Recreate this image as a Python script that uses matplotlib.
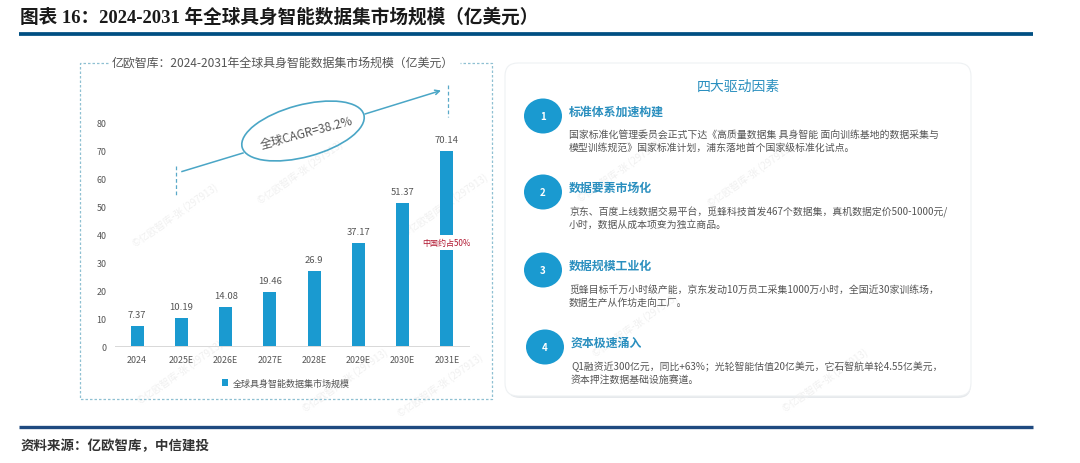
#!/usr/bin/env python3
"""Global embodied-AI dataset market size chart with the four-drivers card."""

import matplotlib
matplotlib.use("Agg")
import matplotlib.pyplot as plt
from matplotlib.patches import Ellipse, FancyBboxPatch

CJK = ["Noto Sans CJK SC", "DejaVu Sans"]
plt.rcParams["font.family"] = CJK

W, H = 1080, 464
BLUE = "#1a9ad0"
TEAL = "#4aa6c6"
TEXT = "#555555"

years = ["2024", "2025E", "2026E", "2027E", "2028E", "2029E", "2030E", "2031E"]
market_size = [7.37, 10.19, 14.08, 19.46, 26.9, 37.17, 51.37, 70.14]
value_labels = ["7.37", "10.19", "14.08", "19.46", "26.9", "37.17", "51.37", "70.14"]
y_ticks = [0, 10, 20, 30, 40, 50, 60, 70, 80]

# full-width punctuation written as escapes so it stays full width
COLON, COMMA, SEMI, LP, RP = "\uff1a", "\uff0c", "\uff1b", "\uff08", "\uff09"

page_title = f"图表 16{COLON}2024-2031 年全球具身智能数据集市场规模{LP}亿美元{RP}"
chart_title = f"亿欧智库{COLON}2024-2031年全球具身智能数据集市场规模{LP}亿美元{RP}"
source_note = f"资料来源{COLON}亿欧智库{COMMA}中信建投"

card_title = "四大驱动因素"
driver_nums = ["1", "2", "3", "4"]
driver_heads = ["标准体系加速构建", "数据要素市场化", "数据规模工业化", "资本极速涌入"]
driver_lines = [
    ["国家标准化管理委员会正式下达《高质量数据集 具身智能 面向训练基地的数据采集与",
     f"模型训练规范》国家标准计划{COMMA}浦东落地首个国家级标准化试点。"],
    [f"京东、百度上线数据交易平台{COMMA}觅蜂科技首发467个数据集{COMMA}真机数据定价500-1000元/",
     f"小时{COMMA}数据从成本项变为独立商品。"],
    [f"觅蜂目标千万小时级产能{COMMA}京东发动10万员工采集1000万小时{COMMA}全国近30家训练场{COMMA}",
     "数据生产从作坊走向工厂。"],
    [f"Q1融资近300亿元{COMMA}同比+63%{SEMI}光轮智能估值20亿美元{COMMA}它石智航单轮4.55亿美元{COMMA}",
     "资本押注数据基础设施赛道。"],
]
circle_y = [117, 193, 271, 348]
head_y = [112, 188, 266, 343]
body_y = [135, 212, 290, 367]

watermark = "©亿欧智库-张 (297913)"
mark_xy = [(175, 215), (180, 372), (300, 172), (345, 380), (445, 205), (440, 385),
           (620, 170), (750, 175), (635, 325), (825, 380)]


def main():
    fig = plt.figure(figsize=(W / 100, H / 100), dpi=100, facecolor="white")

    # overlay in pixel coordinates for the page furniture
    bg = fig.add_axes([0, 0, 1, 1])
    bg.set_xlim(0, W)
    bg.set_ylim(H, 0)
    bg.axis("off")

    for x, y in mark_xy[:6]:
        bg.text(x, y, watermark, fontsize=7, color="#f0f0f0", rotation=35,
                ha="center", va="center", zorder=1)

    bg.text(20, 17.5, page_title, fontsize=13.4, fontweight="bold", color="#1a1a1a",
            va="center", family=["Liberation Serif", "Noto Sans CJK SC"])
    bg.plot([19, 1033], [34.5, 34.5], color="#004f82", lw=2.7, solid_capstyle="butt")
    bg.plot([19, 1033], [428, 428], color="#1f4a80", lw=2.4, solid_capstyle="butt")
    bg.text(21, 446, source_note, fontsize=9.7, color="#333333",
            va="center", fontweight="bold", style="italic")

    # dashed frame round the chart, broken by its title
    dash = dict(color="#8fc0d2", lw=0.9, ls=(0, (2, 1.6)))
    bg.plot([108, 80, 80, 492, 492, 460], [64, 64, 400, 400, 64, 64], **dash)
    bg.text(283, 63.5, chart_title, fontsize=8.6, color="#555555", ha="center", va="center")

    # CAGR callout
    bg.plot([176, 176], [167, 198], color="#5aa9c8", lw=0.9, ls=(0, (3, 2)))
    bg.plot([448, 448], [86, 118], color="#5aa9c8", lw=0.9, ls=(0, (3, 2)))
    bg.plot([182, 243], [172.5, 154], color=TEAL, lw=1.1)
    bg.annotate("", xy=(441, 91.5), xytext=(365, 115),
                arrowprops=dict(arrowstyle="->", color=TEAL, lw=1.1,
                                shrinkA=0, shrinkB=0, mutation_scale=8))
    bg.add_patch(Ellipse((303, 132), 126, 52, angle=-15, fill=False,
                         edgecolor=TEAL, lw=1.2))
    bg.text(307, 133, "全球CAGR=38.2%", fontsize=8.6, color="#555555", rotation=15,
            ha="center", va="center", rotation_mode="anchor")

    # right hand card
    bg.add_patch(FancyBboxPatch((507, 66), 464, 333, boxstyle="round,pad=0,rounding_size=13",
                                facecolor="#e6e9ec", edgecolor="none", zorder=2))
    bg.add_patch(FancyBboxPatch((505, 64), 466, 333, boxstyle="round,pad=0,rounding_size=13",
                                facecolor="white", edgecolor="#eef1f3", lw=0.8, zorder=2))
    for x, y in mark_xy[6:]:
        bg.text(x, y, watermark, fontsize=7, color="#f0f0f0", rotation=35,
                ha="center", va="center", zorder=3)
    bg.text(738, 87, card_title, fontsize=10, color="#2a8fbf", ha="center", va="center",
            fontweight="medium", zorder=4)
    for i, num in enumerate(driver_nums):
        cx = 543 if i < 3 else 545
        bg.add_patch(Ellipse((cx, circle_y[i]), 38, 35, facecolor=BLUE, edgecolor="none", zorder=4))
        bg.text(cx, circle_y[i], num, fontsize=7, color="white", fontweight="bold",
                ha="center", va="center", zorder=5)
        tx = 569 if i < 3 else 571
        bg.text(tx, head_y[i], driver_heads[i], fontsize=8.6, color="#2a8fbf",
                fontweight="bold", va="center", zorder=5)
        for j, line in enumerate(driver_lines[i]):
            bg.text(tx, body_y[i] + j * 12.5, line, fontsize=7.1, color=TEXT,
                    va="center", zorder=5)

    # bar chart sits on real axes, 0 at y=347 and 80 at y=124
    ax = fig.add_axes([115 / W, 1 - 347.3 / H, 354 / W, 223.3 / H])
    ax.patch.set_alpha(0)
    bars = ax.bar(range(len(years)), market_size, width=0.29, color=BLUE,
                  label="全球具身智能数据集市场规模")
    ax.set_xlim(-0.5, 7.5)
    ax.set_ylim(0, 80)
    ax.set_xticks(range(len(years)))
    ax.set_xticklabels(years, fontsize=6.4, color="#555555")
    ax.set_yticks(y_ticks)
    ax.set_yticklabels([str(v) for v in y_ticks], fontsize=6.4, color="#555555")
    ax.tick_params(length=0, pad=6)
    for side in ["top", "right", "left"]:
        ax.spines[side].set_visible(False)
    ax.spines["bottom"].set_color("#d8d8d8")
    ax.spines["bottom"].set_linewidth(0.7)
    for bar, label in zip(bars, value_labels):
        ax.annotate(label, (bar.get_x() + bar.get_width() / 2, bar.get_height()),
                    xytext=(0, 7), textcoords="offset pixels", ha="center", va="bottom",
                    fontsize=6.8, color="#555555")
    ax.text(7, 37.3, "中国约占50%", fontsize=5.8, color="#b0152f", ha="center", va="center",
            bbox=dict(facecolor="white", edgecolor="none", pad=2.2))
    fig.legend(*ax.get_legend_handles_labels(), loc="center", bbox_to_anchor=(286 / W, 1 - 384 / H),
               frameon=False, fontsize=6.5, labelcolor="#555555", handlelength=0.7,
               handleheight=0.7, handletextpad=0.5)

    fig.savefig("out.png", dpi=100)


if __name__ == "__main__":
    main()
